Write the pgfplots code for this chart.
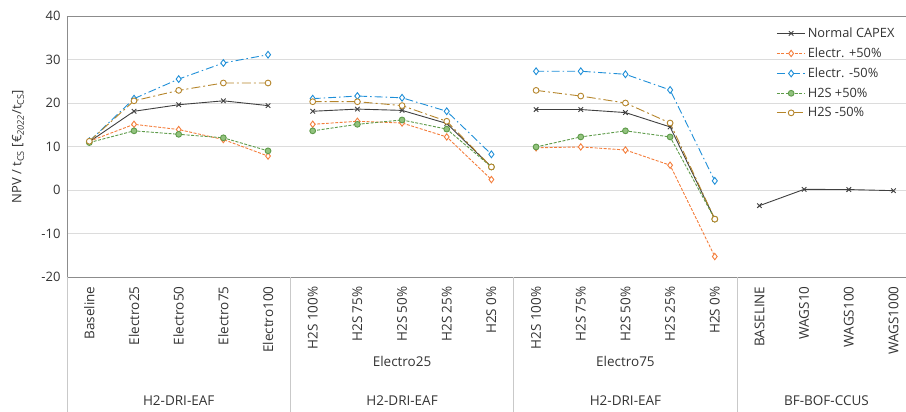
\documentclass[border=0pt]{standalone}
\usepackage{fontspec}
\setmainfont{Open Sans}
\usepackage{pgfplots}
\pgfplotsset{compat=1.18}
\definecolor{cblack}{HTML}{404040}
\definecolor{ctext}{HTML}{333333}
\definecolor{corange}{HTML}{F47E3C}
\definecolor{cblue}{HTML}{1F8FD8}
\definecolor{cgreen}{HTML}{5E9B4A}
\definecolor{cgreenf}{HTML}{92C27E}
\definecolor{cbrown}{HTML}{B5852B}
\definecolor{cgrid}{HTML}{DCDCDC}
\definecolor{caxis}{HTML}{8C8C8C}
\begin{document}
\begin{tikzpicture}[every node/.append style={text=ctext}]
\begin{axis}[
  scale only axis,
  width=839pt, height=261pt,
  xmin=-0.5, xmax=18.28,
  ymin=-20, ymax=40,
  ytick={-20,-10,...,40},
  xtick={0,...,18},
  xticklabels={Baseline,Electro25,Electro50,Electro75,Electro100,
    H2S 100\%,H2S 75\%,H2S 50\%,H2S 25\%,H2S 0\%,
    H2S 100\%,H2S 75\%,H2S 50\%,H2S 25\%,H2S 0\%,
    BASELINE,WAGS10,WAGS100,WAGS1000},
  xticklabel style={rotate=90, anchor=east, font=\fontsize{13.5}{15}\selectfont, xshift=-6pt},
  yticklabel style={font=\fontsize{13}{15}\selectfont, xshift=-3pt},
  /pgf/number format/assume math mode=true,
  tick style={draw=none},
  ymajorgrids, grid style={cgrid, line width=0.8pt},
  axis x line*=bottom, axis y line*=left,
  axis line style={caxis, line width=0.8pt, -},
  unbounded coords=jump,
  clip=false,
  every axis y label/.style={at={(axis description cs:0,0.5)}, xshift=-49pt, rotate=90, anchor=center},
  ylabel={\fontsize{13}{15}\selectfont NPV / t\textsubscript{CS} [€\textsubscript{\textit{2022}}/t\textsubscript{CS}]},
  legend style={at={(axis description cs:0.99,0.967)}, anchor=north east, draw=none, fill=none,
    font=\fontsize{12.8}{14}\selectfont, row sep=4.8pt, inner sep=1pt},
  legend cell align=left,
  legend image code/.code={
    \draw[mark repeat=2,mark phase=2] plot coordinates {(0cm,0cm) (0.5cm,0cm) (1.0cm,0cm)};},
]
\addplot[cblack, line width=0.9pt, mark=x, mark size=3.2pt, mark options={solid}] coordinates {
 (0,11.1)(1,18.1)(2,19.6)(3,20.5)(4,19.4)(4.5,nan)
 (5,18.1)(6,18.6)(7,18.3)(8,15.3)(9,5.3)(9.5,nan)
 (10,18.5)(11,18.5)(12,17.8)(13,14.5)(14,-6.7)(14.5,nan)
 (15,-3.6)(16,0.15)(17,0.1)(18,-0.15)};
\addlegendentry{Normal CAPEX}
\addplot[corange, line width=0.9pt, dash pattern=on 3pt off 1.5pt, mark=diamond*, mark size=3.2pt, mark options={solid, fill=white}] coordinates {
 (0,11.2)(1,15.1)(2,13.9)(3,11.6)(4,7.8)(4.5,nan)
 (5,15.1)(6,15.8)(7,15.4)(8,12.2)(9,2.4)(9.5,nan)
 (10,9.7)(11,9.9)(12,9.2)(13,5.7)(14,-15.3)};
\addlegendentry{Electr. +50\%}
\addplot[cblue, line width=0.9pt, dash pattern=on 8pt off 3pt on 1.5pt off 3pt, mark=diamond*, mark size=3.4pt, mark options={solid, fill=white}] coordinates {
 (0,11.2)(1,21.0)(2,25.5)(3,29.2)(4,31.1)(4.5,nan)
 (5,21.0)(6,21.6)(7,21.2)(8,18.1)(9,8.2)(9.5,nan)
 (10,27.3)(11,27.3)(12,26.6)(13,23.0)(14,2.1)};
\addlegendentry{Electr. -50\%}
\addplot[cgreen, line width=0.9pt, dash pattern=on 3pt off 1.5pt, mark=*, mark size=2.9pt, mark options={solid, fill=cgreenf}] coordinates {
 (0,10.9)(1,13.6)(2,12.8)(3,12.0)(4,9.0)(4.5,nan)
 (5,13.6)(6,15.1)(7,16.1)(8,14.0)(9,5.3)(9.5,nan)
 (10,9.9)(11,12.2)(12,13.6)(13,12.2)(14,-6.7)};
\addlegendentry{H2S +50\%}
\addplot[cbrown, line width=0.9pt, dash pattern=on 9pt off 3pt on 2pt off 3pt, mark=*, mark size=2.9pt, mark options={solid, fill=white}] coordinates {
 (0,11.2)(1,20.5)(2,22.9)(3,24.6)(4,24.6)(4.5,nan)
 (5,20.3)(6,20.3)(7,19.4)(8,15.8)(9,5.3)(9.5,nan)
 (10,22.9)(11,21.6)(12,20.0)(13,15.4)(14,-6.7)};
\addlegendentry{H2S -50\%}
% top border and group separators
\draw[caxis, line width=0.8pt] (rel axis cs:0,1) -- (rel axis cs:1,1);
\draw[cgrid!80!gray, line width=0.8pt] (axis cs:-0.5,-20) -- ([yshift=-135pt]axis cs:-0.5,-20);
\draw[cgrid!80!gray, line width=0.8pt] (axis cs:4.5,-20) -- ([yshift=-135pt]axis cs:4.5,-20);
\draw[cgrid!80!gray, line width=0.8pt] (axis cs:9.5,-20) -- ([yshift=-135pt]axis cs:9.5,-20);
\draw[cgrid!80!gray, line width=0.8pt] (axis cs:14.5,-20) -- ([yshift=-135pt]axis cs:14.5,-20);
\node[font=\fontsize{13.5}{15}\selectfont] at ([yshift=-84pt]axis cs:7,-20) {Electro25};
\node[font=\fontsize{13.5}{15}\selectfont] at ([yshift=-84pt]axis cs:12,-20) {Electro75};
\node[font=\fontsize{13.5}{15}\selectfont] at ([yshift=-124pt]axis cs:2,-20) {H2-DRI-EAF};
\node[font=\fontsize{13.5}{15}\selectfont] at ([yshift=-124pt]axis cs:7,-20) {H2-DRI-EAF};
\node[font=\fontsize{13.5}{15}\selectfont] at ([yshift=-124pt]axis cs:12,-20) {H2-DRI-EAF};
\node[font=\fontsize{13.5}{15}\selectfont] at ([yshift=-124pt]axis cs:16.5,-20) {BF-BOF-CCUS};
\end{axis}
\pgfresetboundingbox
\path[use as bounding box] (-67pt,-135pt) rectangle (839pt,277pt);
\end{tikzpicture}
\end{document}
